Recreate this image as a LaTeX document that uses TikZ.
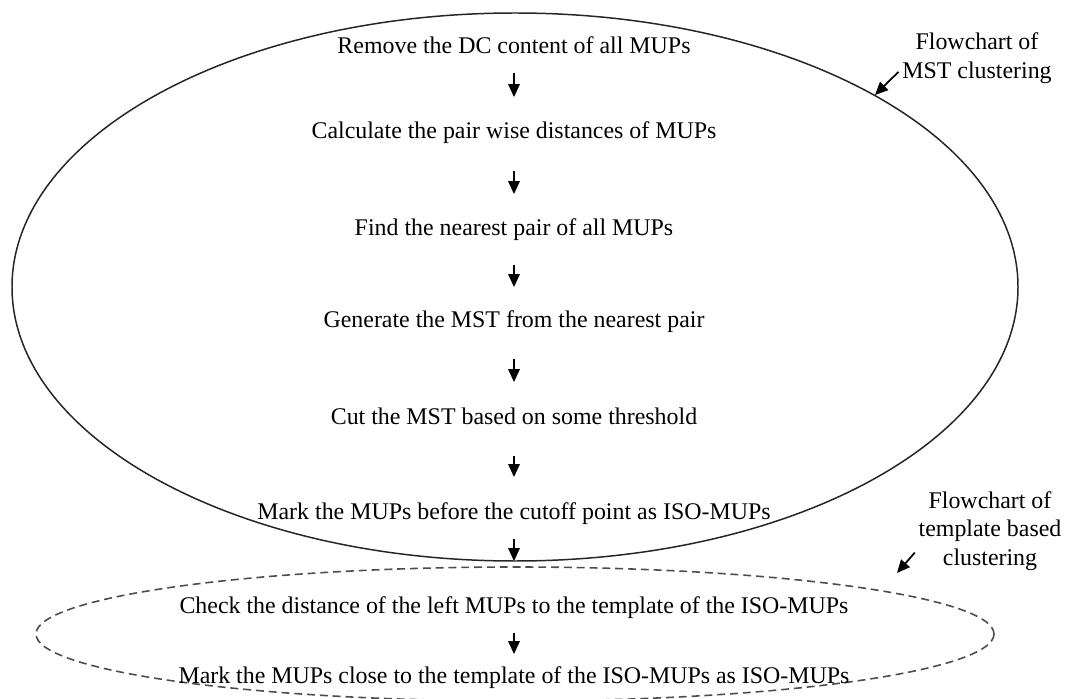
\documentclass[tikz,border=0pt]{standalone}
\usepackage{fontspec}
\setmainfont{Liberation Serif}
\usetikzlibrary{arrows.meta}

\begin{document}
\begin{tikzpicture}[x=0.02cm,y=-0.02cm,
    every node/.style={font=\fontsize{13.6}{16.2}\selectfont},
    stepnode/.style={anchor=base,inner sep=0pt,text height=10pt,text depth=3pt},
    notenode/.style={align=center,inner sep=2pt},
    flowarrow/.style={line width=1pt,-{Triangle[width=0.23cm,length=0.26cm]}}]
    \useasboundingbox (0,0) rectangle (1066,699);

    % the two clusters
    \draw[line width=0.85pt,black!85] (515,287) ellipse (503 and 274);
    \draw[line width=0.9pt,black!70,dash pattern=on 4.5pt off 2.8pt] (515,634) ellipse (479 and 67);

    \node[stepnode] (remove) at (514,54) {Remove the DC content of all MUPs};
    \node[stepnode] (calc) at (514,139) {Calculate the pair wise distances of MUPs};
    \node[stepnode] (nearest) at (514,236) {Find the nearest pair of all MUPs};
    \node[stepnode] (generate) at (514,328) {Generate the MST from the nearest pair};
    \node[stepnode] (cut) at (514,425) {Cut the MST based on some threshold};
    \node[stepnode] (markiso) at (514,520) {Mark the MUPs before the cutoff point as ISO-MUPs};
    \node[stepnode] (check) at (514,613) {Check the distance of the left MUPs to the template of the ISO-MUPs};
    \node[stepnode] (markclose) at (514,683) {Mark the MUPs close to the template of the ISO-MUPs as ISO-MUPs};

    \foreach \a/\b/\s/\e in {remove/calc/0.26cm/0.48cm, calc/nearest/0.52cm/0.48cm,
        nearest/generate/0.46cm/0.46cm, generate/cut/0.5cm/0.5cm, cut/markiso/0.5cm/0.5cm,
        markiso/check/0.26cm/0.68cm, check/markclose/0.28cm/0.22cm}
    \draw[flowarrow,shorten <=\s,shorten >=\e] (\a) -- (\b);

    % side notes
    \node[notenode] (mstnote) at (977,58) {Flowchart of\\MST clustering};
    \coordinate (msttip) at (875,95);
    \draw[flowarrow] (mstnote.190) -- (msttip);

    \node[notenode] (tempnote) at (990,531) {Flowchart of\\template based\\clustering};
    \coordinate (temptip) at (897,573);
    \draw[flowarrow] (tempnote.196) -- (temptip);

\end{tikzpicture}
\end{document}
